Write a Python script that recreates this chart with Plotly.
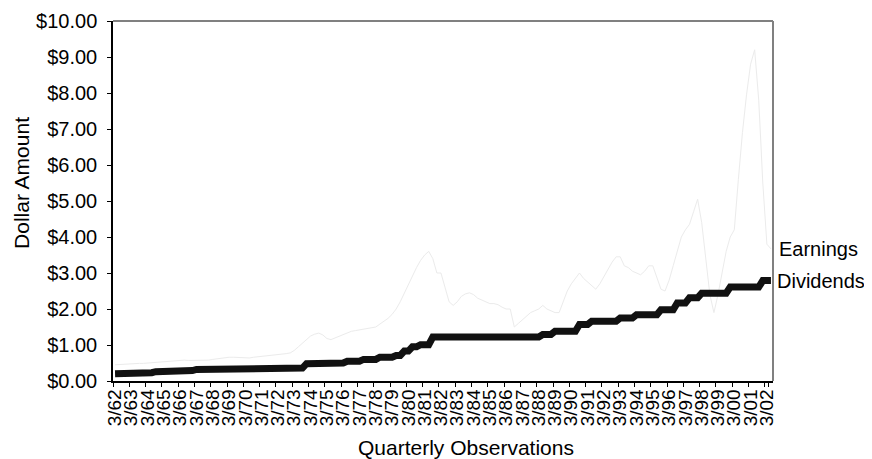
import plotly.graph_objects as go

# Quarterly category labels 3/62 ... 6/02
years = list(range(1962, 2003))
months = [3, 6, 9, 12]
categories = [f"{m}/{str(y)[2:]}" for y in years for m in months][:162]
tick_labels = [f"3/{str(y)[2:]}" for y in years]

dividends = [
    0.20, 0.20, 0.20, 0.20,   # 1962
    0.23, 0.23, 0.23, 0.23,   # 1963
    0.23, 0.23, 0.26, 0.26,   # 1964
    0.26, 0.26, 0.26, 0.29,   # 1965
    0.29, 0.29, 0.29, 0.29,   # 1966
    0.32, 0.32, 0.32, 0.32,   # 1967
    0.34, 0.34, 0.34, 0.34,   # 1968
    0.35, 0.35, 0.35, 0.35,   # 1969
    0.35, 0.35, 0.35, 0.35,   # 1970
    0.35, 0.35, 0.35, 0.35,   # 1971
    0.36, 0.36, 0.36, 0.36,   # 1972
    0.36, 0.36, 0.36, 0.48,   # 1973
    0.48, 0.48, 0.50, 0.50,   # 1974
    0.50, 0.50, 0.50, 0.50,   # 1975
    0.50, 0.55, 0.55, 0.55,   # 1976
    0.55, 0.60, 0.60, 0.60,   # 1977
    0.60, 0.66, 0.66, 0.66,   # 1978
    0.66, 0.71, 0.71, 0.83,   # 1979
    0.83, 0.95, 0.95, 1.01,   # 1980
    1.01, 1.01, 1.22, 1.22,   # 1981
    1.22, 1.22, 1.22, 1.22,   # 1982
    1.22, 1.22, 1.22, 1.22,   # 1983
    1.22, 1.22, 1.22, 1.22,   # 1984
    1.22, 1.22, 1.22, 1.22,   # 1985
    1.22, 1.22, 1.22, 1.22,   # 1986
    1.22, 1.22, 1.22, 1.22,   # 1987
    1.22, 1.29, 1.29, 1.29,   # 1988
    1.38, 1.38, 1.38, 1.38,   # 1989
    1.38, 1.38, 1.57, 1.57,   # 1990
    1.57, 1.66, 1.66, 1.66,   # 1991
    1.66, 1.66, 1.66, 1.66,   # 1992
    1.75, 1.75, 1.75, 1.75,   # 1993
    1.84, 1.84, 1.84, 1.84,   # 1994
    1.84, 1.84, 1.98, 1.98,   # 1995
    1.98, 1.98, 2.17, 2.17,   # 1996
    2.17, 2.31, 2.31, 2.31,   # 1997
    2.44, 2.44, 2.44, 2.44,   # 1998
    2.44, 2.44, 2.44, 2.61,   # 1999
    2.61, 2.61, 2.61, 2.61,   # 2000
    2.61, 2.61, 2.61, 2.79,   # 2001
    2.79, 2.79,               # 2002
]

earnings = [
    0.45, 0.46, 0.46, 0.47,   # 1962
    0.48, 0.48, 0.49, 0.49,   # 1963
    0.50, 0.50, 0.51, 0.52,   # 1964
    0.54, 0.55, 0.56, 0.57,   # 1965
    0.57, 0.58, 0.57, 0.57,   # 1966
    0.56, 0.57, 0.57, 0.58,   # 1967
    0.60, 0.62, 0.64, 0.65,   # 1968
    0.66, 0.66, 0.65, 0.66,   # 1969
    0.65, 0.64, 0.66, 0.67,   # 1970
    0.68, 0.70, 0.71, 0.72,   # 1971
    0.74, 0.75, 0.76, 0.78,   # 1972
    0.85, 0.95, 1.05, 1.15,   # 1973
    1.25, 1.30, 1.33, 1.28,   # 1974
    1.18, 1.15, 1.20, 1.25,   # 1975
    1.30, 1.35, 1.38, 1.40,   # 1976
    1.42, 1.44, 1.45, 1.47,   # 1977
    1.50, 1.58, 1.66, 1.74,   # 1978
    1.85, 2.00, 2.20, 2.45,   # 1979
    2.70, 2.95, 3.15, 3.35,   # 1980
    3.50, 3.60, 3.40, 3.00,   # 1981
    3.00, 2.60, 2.20, 2.10,   # 1982
    2.20, 2.35, 2.42, 2.45,   # 1983
    2.40, 2.30, 2.25, 2.20,   # 1984
    2.15, 2.15, 2.12, 2.05,   # 1985
    2.00, 2.00, 1.50, 1.60,   # 1986
    1.70, 1.80, 1.90, 1.95,   # 1987
    2.00, 2.10, 2.00, 1.95,   # 1988
    1.90, 1.90, 2.20, 2.50,   # 1989
    2.70, 2.85, 3.00, 2.85,   # 1990
    2.75, 2.65, 2.55, 2.70,   # 1991
    2.90, 3.10, 3.30, 3.45,   # 1992
    3.45, 3.20, 3.15, 3.05,   # 1993
    3.00, 2.95, 3.05, 3.20,   # 1994
    3.20, 2.90, 2.55, 2.50,   # 1995
    2.80, 3.20, 3.60, 4.00,   # 1996
    4.20, 4.35, 4.70, 5.05,   # 1997
    4.40, 3.40, 2.40, 1.90,   # 1998
    2.40, 3.00, 3.60, 4.00,   # 1999
    4.20, 5.60, 6.90, 7.95,   # 2000
    8.80, 9.20, 7.80, 5.50,   # 2001
    3.80, 3.67,               # 2002
]

FONT = "Liberation Sans, Arial, Helvetica, sans-serif"

fig = go.Figure()
fig.add_trace(go.Scatter(
    x=categories, y=earnings, mode="lines",
    line=dict(color="#ebebeb", width=1), name="Earnings", showlegend=False,
))
fig.add_trace(go.Scatter(
    x=categories, y=dividends, mode="lines",
    line=dict(color="#111111", width=7), name="Dividends", showlegend=False,
))

fig.update_layout(
    width=864, height=451,
    margin=dict(l=105, r=99, t=13, b=78, autoexpand=False),
    paper_bgcolor="white", plot_bgcolor="white",
    font=dict(family=FONT, color="black"),
    xaxis=dict(
        type="category", range=[-0.5, len(categories) - 0.5],
        tickmode="array", tickvals=tick_labels, ticktext=tick_labels,
        tickson="boundaries", tickangle=-90, ticks="outside", ticklen=4,
        tickcolor="black", tickwidth=1.2, automargin=False,
        showline=True, linecolor="black", linewidth=1.5,
        showgrid=False, zeroline=False, ticklabelstandoff=-1,
        tickfont=dict(size=19, family=FONT, color="black"),
    ),
    yaxis=dict(
        range=[0, 10], dtick=1, tick0=0, tickprefix="$", tickformat=".2f",
        ticks="outside", ticklen=4, tickcolor="black", tickwidth=1.2,
        showline=True, linecolor="black", linewidth=1.5, automargin=False,
        showgrid=False, zeroline=False, ticklabelstandoff=6,
        tickfont=dict(size=20, family=FONT, color="black"),
    ),
    shapes=[
        dict(type="line", xref="paper", yref="paper", x0=0, x1=1, y0=1, y1=1,
             line=dict(color="#808080", width=2)),
        dict(type="line", xref="paper", yref="paper", x0=1, x1=1, y0=0, y1=1,
             line=dict(color="#808080", width=2)),
    ],
    annotations=[
        dict(text="Dollar Amount", xref="paper", yref="paper",
             x=-0.138, y=0.55, textangle=-90, showarrow=False,
             xanchor="center", yanchor="middle",
             font=dict(size=21, family=FONT, color="black")),
        dict(text="Quarterly Observations", xref="paper", yref="paper",
             x=0.535, y=-0.185, showarrow=False,
             xanchor="center", yanchor="middle",
             font=dict(size=21, family=FONT, color="black")),
        dict(text="Earnings", xref="paper", yref="y", x=1, y=earnings[-1],
             xanchor="left", yanchor="middle", xshift=4, showarrow=False,
             font=dict(size=20, family=FONT, color="black")),
        dict(text="Dividends", xref="paper", yref="y", x=1, y=dividends[-1],
             xanchor="left", yanchor="middle", xshift=2, showarrow=False,
             font=dict(size=20, family=FONT, color="black")),
    ],
)

fig.write_html("out.html")
